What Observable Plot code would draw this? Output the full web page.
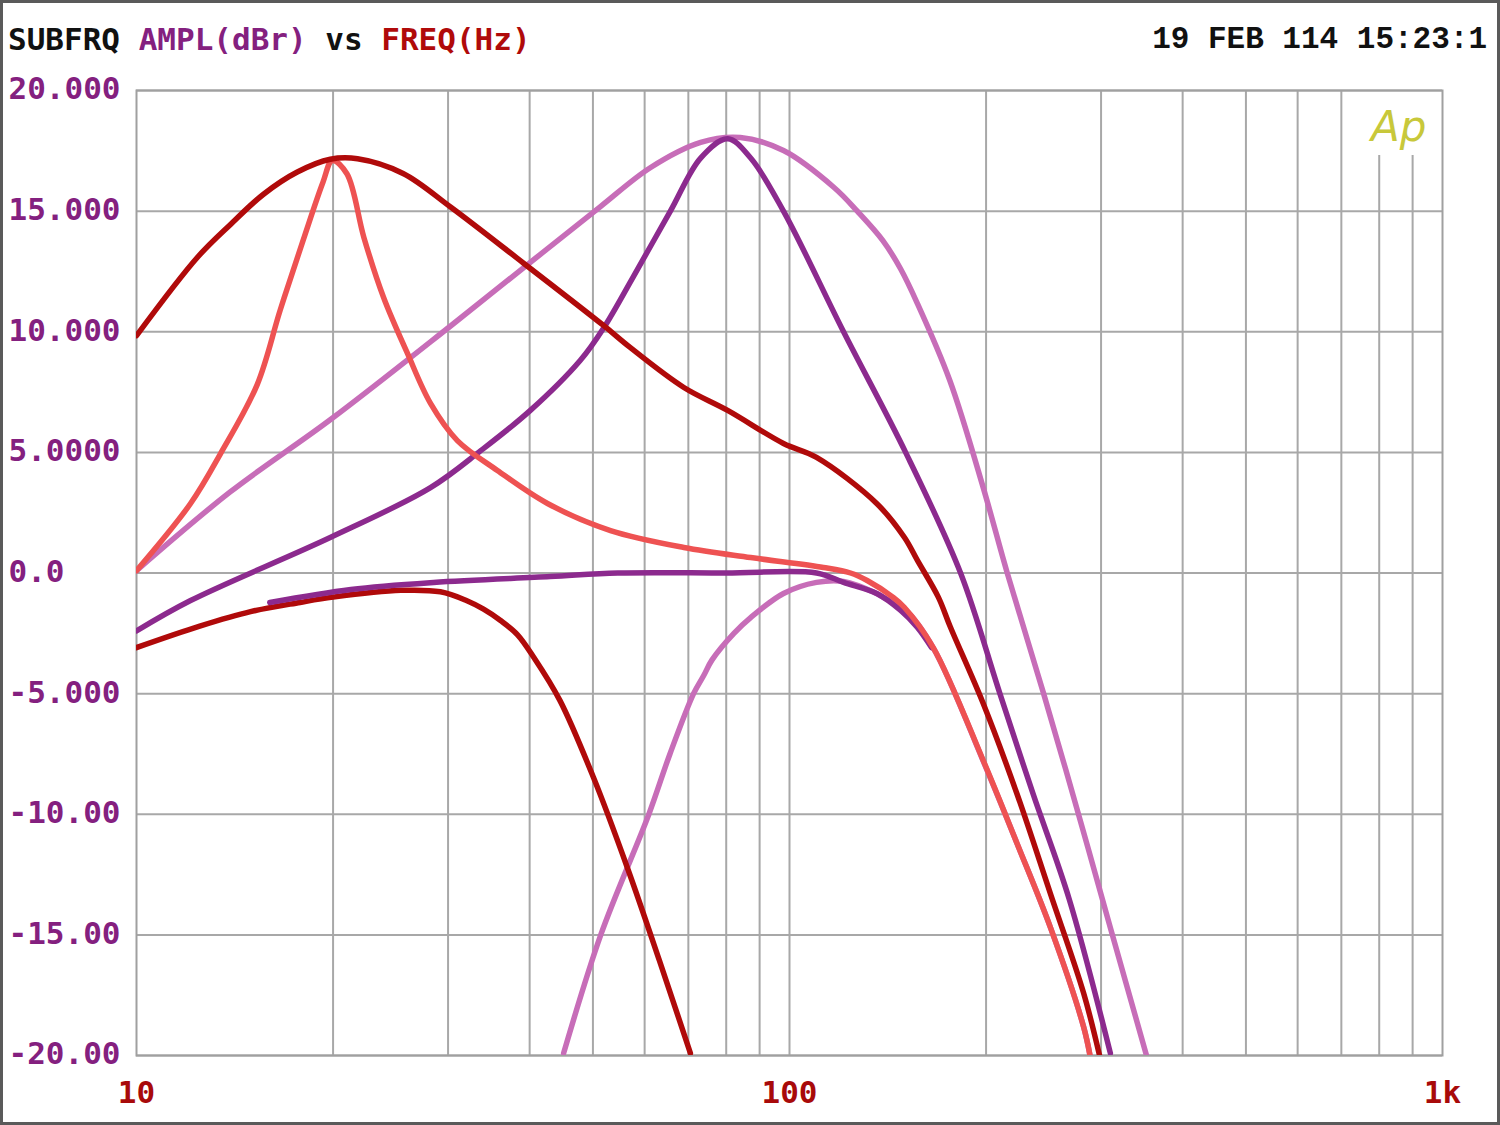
<!DOCTYPE html>
<html>
<head>
<meta charset="utf-8">
<script src="https://cdn.jsdelivr.net/npm/d3@7"></script>
<script src="https://cdn.jsdelivr.net/npm/@observablehq/plot@0.6"></script>
<style>
  html, body { margin: 0; padding: 0; background: #fff; }
  #wrap { position: relative; width: 1500px; height: 1125px; background: #fff; overflow: hidden; }
  #border { position: absolute; left: 0; top: 0; width: 1500px; height: 1125px; box-sizing: border-box; border: 3px solid #5a5a5a; pointer-events: none; }
  .hdr { position: absolute; top: 24px; font-size: 31px; line-height: 31px; white-space: pre; }
  #title { left: 8px; font-family: "DejaVu Sans Mono", monospace; font-weight: bold; }
  #date { right: 13px; font-family: "Liberation Mono", monospace; font-weight: bold; color: #111; }
</style>
</head>
<body>
<div id="wrap">
  <div id="title" class="hdr"><span style="color:#111">SUBFRQ </span><span style="color:#84207f">AMPL(dBr) </span><span style="color:#111">vs </span><span style="color:#b00a0a">FREQ(Hz)</span></div>
  <div id="date" class="hdr">19 FEB 114 15:23:1</div>
  <div id="chart"></div>
  <div id="border"></div>
</div>
<script>
// ---- tick values / labels ----
const yTicks = [20, 15, 10, 5, 0, -5, -10, -15, -20];
const yLabels = ["20.000", "15.000", "10.000", "5.0000", "0.0", "-5.000", "-10.00", "-15.00", "-20.00"];
const xTicks = [10, 100, 1000];
const xLabels = ["10", "100", "1k"];
const xGrid = [20, 30, 40, 50, 60, 70, 80, 90, 100, 200, 300, 400, 500, 600, 700];
const xGridShort = [800, 900];

// ---- series (frequency Hz, level dBr) ----
// A: dark red, broad peak near 21 Hz
const aFreq = [10, 12.4, 13.93, 15.65, 17.63, 19.8, 21.8, 25.6, 30.3, 39.2, 51.9, 57, 68.9, 80.4, 97.9, 110, 136, 150, 157, 169, 176.4, 198, 223, 251, 282, 299];
const aDb   = [9.84, 13.09, 14.45, 15.7, 16.62, 17.15, 17.17, 16.56, 15.16, 12.83, 10.26, 9.35, 7.69, 6.74, 5.37, 4.79, 2.88, 1.47, 0.52, -1.0, -2.25, -5.41, -9.15, -13.3, -17.4, -20.1];
// B: salmon, sharp peak at 20 Hz
const bFreq = [10, 12.1, 13.45, 15.3, 16.6, 18.0, 19.3, 19.95, 21.0, 22.3, 23.9, 26.0, 28.2, 31.0, 35.7, 42.6, 53.2, 68.9, 87.2, 112.7, 124, 131.5, 144, 150, 166, 198, 223, 251, 282, 289];
const bDb   = [0.1, 2.88, 4.95, 7.8, 10.9, 13.8, 16.2, 17.1, 16.55, 13.9, 11.42, 9.1, 7.03, 5.49, 4.25, 2.88, 1.76, 1.06, 0.64, 0.23, 0.0, -0.31, -1.0, -1.43, -3.09, -7.77, -11.2, -14.7, -18.8, -20.1];
// C: orchid, broad peak near 82 Hz
const cFreq = [10, 13.9, 19.8, 30.3, 41.5, 51.4, 61.2, 73.1, 84.1, 97.9, 117, 127, 139, 148, 157, 176, 198, 215.5, 245, 276, 310, 353];
const cDb   = [0.1, 3.35, 6.35, 10.25, 13.2, 15.2, 16.8, 17.85, 18.05, 17.51, 15.98, 15.0, 13.78, 12.6, 11.17, 7.98, 3.54, 0.0, -5.0, -9.84, -14.7, -20.1];
// D: dark purple, sharp peak at 80 Hz
const dFreq = [10, 12.1, 19.8, 28.2, 33.7, 40.1, 47.8, 51.9, 57.7, 65.7, 73.1, 80.4, 87.2, 97.9, 121, 150.6, 182.8, 210, 236, 268, 310];
const dDb   = [-2.4, -1.14, 1.47, 3.54, 5.08, 6.74, 8.81, 10.15, 12.3, 15.0, 17.2, 18.0, 17.2, 15.0, 10.0, 5.0, 0.0, -5.0, -9.15, -13.5, -19.9];
// E: purple, flat band
const eFreq = [16, 21.3, 28.5, 43, 54.6, 80, 110, 121, 136, 148, 157, 165];
const eDb   = [-1.22, -0.68, -0.39, -0.15, 0, 0, 0, -0.39, -0.85, -1.55, -2.26, -3.09];
// F: dark red, low-pass near 40 Hz
const fFreq = [10, 12.5, 14.95, 17.8, 20.0, 25.4, 29.2, 32.0, 34.0, 36.1, 38.3, 40.6, 44.5, 50.1, 56.6, 63.2, 70.5];
const fDb   = [-3.09, -2.2, -1.6, -1.22, -1.0, -0.72, -0.78, -1.14, -1.5, -1.97, -2.55, -3.5, -5.28, -8.48, -12.3, -16.06, -19.9];
// G: orchid, high-pass from 45 Hz
const gFreq = [45.1, 51.4, 60.9, 65.6, 71.3, 73.9, 76.1, 82.2, 87.2, 97.9, 110, 121, 136, 139, 150, 166, 198, 223, 251, 282, 289];
const gDb   = [-19.9, -15.0, -10.0, -7.5, -5.0, -4.25, -3.6, -2.5, -1.85, -0.85, -0.39, -0.35, -0.85, -1.0, -1.5, -3.1, -7.8, -11.2, -14.7, -18.8, -20.1];

const DARKRED = "#b00a0a", SALMON = "#ee5252", PURPLE = "#8c2a8e", ORCHID = "#c76db8";

const toRows = (fs, ds) => fs.map((f, i) => ({f, db: ds[i]}));
const series = [
  {rows: toRows(gFreq, gDb), color: ORCHID},
  {rows: toRows(cFreq, cDb), color: ORCHID},
  {rows: toRows(fFreq, fDb), color: DARKRED},
  {rows: toRows(eFreq, eDb), color: PURPLE},
  {rows: toRows(dFreq, dDb), color: PURPLE},
  {rows: toRows(bFreq, bDb), color: SALMON},
  {rows: toRows(aFreq, aDb), color: DARKRED}
];

const chart = Plot.plot({
  width: 1500,
  height: 1125,
  marginLeft: 136,
  marginRight: 58,
  marginTop: 90,
  marginBottom: 70,
  x: {type: "log", domain: [10, 1000], axis: null},
  y: {domain: [-20, 20], axis: null},
  style: {fontFamily: "DejaVu Sans Mono, monospace", fontWeight: "bold", fontSize: "31px", background: "transparent"},
  marks: [
    Plot.ruleX(xGrid, {stroke: "#a8a8a8", strokeWidth: 2}),
    Plot.ruleX(xGridShort, {stroke: "#a8a8a8", strokeWidth: 2, insetTop: 65}),
    Plot.ruleY(yTicks, {stroke: "#a8a8a8", strokeWidth: 2}),
    Plot.frame({stroke: "#a0a0a0", strokeWidth: 2}),
    ...series.map(s => Plot.line(s.rows, {x: "f", y: "db", stroke: s.color, strokeWidth: 5.5, curve: "catmull-rom", clip: true})),
    Plot.text(yTicks, {y: d => d, text: (d, i) => yLabels[i], frameAnchor: "left", textAnchor: "start", dx: -128, dy: -1, fill: "#84207f"}),
    Plot.text(xTicks, {x: d => d, text: (d, i) => xLabels[i], frameAnchor: "bottom", dy: 47, fill: "#a80a0a"}),
    Plot.text(["Ap"], {text: d => d, frameAnchor: "top-right", textAnchor: "end", dx: -16, dy: 21, fill: "#c8c83a", fontSize: 42, fontStyle: "italic", fontWeight: "normal", fontFamily: "DejaVu Sans, sans-serif"})
  ]
});
document.getElementById("chart").appendChild(chart);
</script>
</body>
</html>
